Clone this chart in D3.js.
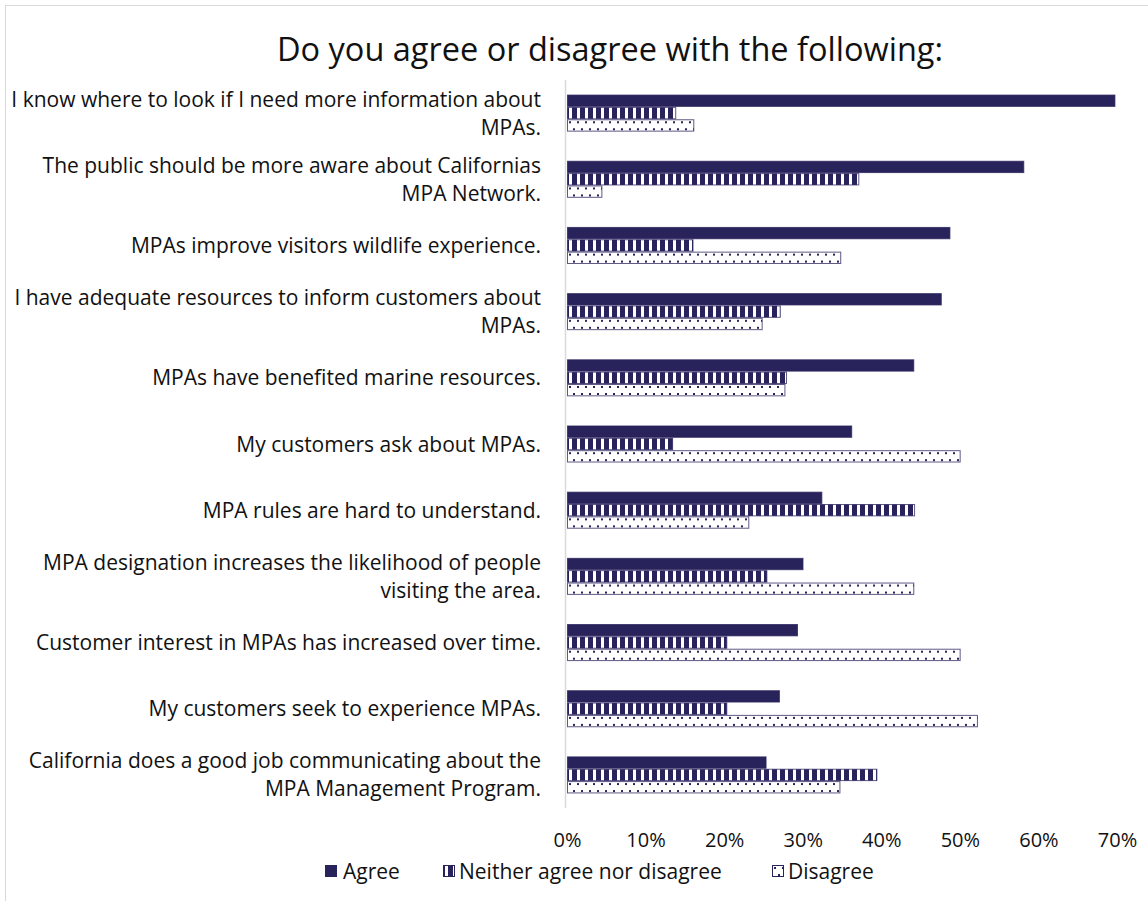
<!DOCTYPE html>
<html>
<head>
<meta charset="utf-8">
<script src="https://cdn.jsdelivr.net/npm/d3@7"></script>
<style>
  body { margin: 0; background: #fff; }
  svg { display: block; }
  text { font-family: "Open Sans", "Noto Sans", sans-serif; fill: #111; }
</style>
</head>
<body>
<svg id="chart" width="1148" height="901"></svg>
<script>
// Survey statements (line breaks mark where each label wraps)
const categories = [
  "I know where to look if I need more information about\nMPAs.",
  "The public should be more aware about Californias\nMPA Network.",
  "MPAs improve visitors wildlife experience.",
  "I have adequate resources to inform customers about\nMPAs.",
  "MPAs have benefited marine resources.",
  "My customers ask about MPAs.",
  "MPA rules are hard to understand.",
  "MPA designation increases the likelihood of people\nvisiting the area.",
  "Customer interest in MPAs has increased over time.",
  "My customers seek to experience MPAs.",
  "California does a good job communicating about the\nMPA Management Program."
];
const seriesNames = ["Agree", "Neither agree nor disagree", "Disagree"];
// Share of respondents, percent
const agree    = [69.8, 58.2, 48.8, 47.7, 44.2, 36.3, 32.5, 30.1, 29.4, 27.1, 25.4];
const neither  = [13.9, 37.2, 16.1, 27.2, 28.0, 13.5, 44.3, 25.5, 20.4, 20.4, 39.5];
const disagree = [16.2,  4.5, 34.9, 24.9, 27.8, 50.1, 23.2, 44.2, 50.1, 52.3, 34.8];
const xTicks = [0, 10, 20, 30, 40, 50, 60, 70];
const chartTitle = "Do you agree or disagree with the following:";

const seriesValues = [agree, neither, disagree];
const rows = categories.map((c, i) => ({
  category: c,
  values: seriesNames.map((s, k) => ({ series: s, key: k, value: seriesValues[k][i] }))
}));

const NAVY = "#29235c";
const FONT = 21;
const svg = d3.select("#chart");

// Outer chart frame
svg.append("rect")
  .attr("x", 5.5).attr("y", 5.5).attr("width", 1300).attr("height", 1100)
  .attr("fill", "none").attr("stroke", "#d9d9d9").attr("stroke-width", 1);

// Fill patterns: vertical stripes and small dots
const defs = svg.append("defs");
const stripes = defs.append("pattern")
  .attr("id", "pat-stripes").attr("patternUnits", "userSpaceOnUse")
  .attr("width", 8).attr("height", 8);
stripes.append("rect").attr("width", 8).attr("height", 8).attr("fill", NAVY);
stripes.append("rect").attr("x", 2).attr("width", 3).attr("height", 8).attr("fill", "#fff");

const dots = defs.append("pattern")
  .attr("id", "pat-dots").attr("patternUnits", "userSpaceOnUse")
  .attr("width", 8).attr("height", 14);
dots.append("rect").attr("width", 8).attr("height", 14).attr("fill", "#fff");
dots.append("rect").attr("x", 2).attr("y", 2).attr("width", 2).attr("height", 2).attr("fill", NAVY);
dots.append("rect").attr("x", 6).attr("y", 9).attr("width", 2).attr("height", 2).attr("fill", NAVY);

const fills = [NAVY, "url(#pat-stripes)", "url(#pat-dots)"];

// Scales
const x = d3.scaleLinear().domain([0, 70]).range([567, 1117]);
const y = d3.scaleBand().domain(categories).range([80, 808])
  .paddingInner(0.44).paddingOuter(0.22);
const ySub = d3.scaleBand().domain(d3.range(seriesNames.length)).range([0, y.bandwidth()]);

// Title
svg.append("text")
  .attr("x", 610).attr("y", 61)
  .attr("text-anchor", "middle")
  .style("font-size", "32.5px")
  .text(chartTitle);

// Bars
const groups = svg.append("g").selectAll("g.row")
  .data(rows).join("g")
  .attr("class", "row")
  .attr("transform", d => `translate(0,${y(d.category)})`);

groups.selectAll("g.bar")
  .data(d => d.values).join("g")
  .attr("class", "bar")
  .attr("transform", d => `translate(${x(0)},${ySub(d.key)})`)
  .append("rect")
  .attr("x", 0.5).attr("y", 0.5)
  .attr("width", d => x(d.value) - x(0) - 1)
  .attr("height", ySub.bandwidth() - 1)
  .attr("fill", d => fills[d.key])
  .attr("stroke", NAVY).attr("stroke-opacity", 0.75).attr("stroke-width", 1);

// Vertical category axis line
svg.append("line")
  .attr("x1", x(0) - 1.5).attr("x2", x(0) - 1.5)
  .attr("y1", 80).attr("y2", 808)
  .attr("stroke", "#d9d9d9").attr("stroke-width", 1.5);

// Category labels, right aligned, centred on their band
const lineGap = 28;
svg.append("g").selectAll("text")
  .data(categories).join("text")
  .attr("text-anchor", "end")
  .style("font-size", FONT + "px")
  .each(function (c) {
    const lines = c.split("\n");
    const cy = y(c) + y.bandwidth() / 2;
    const first = cy - (lines.length - 1) * lineGap / 2;
    d3.select(this).selectAll("tspan")
      .data(lines).join("tspan")
      .attr("x", 541)
      .attr("y", (l, i) => first + i * lineGap)
      .attr("dy", "0.36em")
      .text(l => l);
  });

// Value axis tick labels
const xAxis = svg.append("g")
  .attr("transform", "translate(0,831)")
  .call(d3.axisBottom(x).tickValues(xTicks).tickSize(0).tickPadding(2).tickFormat(d => d + "%"));
xAxis.select(".domain").remove();
xAxis.attr("font-family", null).attr("font-size", null);
xAxis.selectAll("text").style("font-size", "20px").attr("fill", "#111");

// Legend
const legendX = [325, 443, 772];
const legend = svg.append("g").selectAll("g")
  .data(seriesNames).join("g")
  .attr("transform", (d, i) => `translate(${legendX[i]},865)`);
legend.append("rect")
  .attr("x", 0.5).attr("y", 0.5).attr("width", 11).attr("height", 11)
  .attr("fill", (d, i) => fills[i])
  .attr("stroke", NAVY).attr("stroke-width", 1);
legend.append("text")
  .attr("x", (d, i) => i === 0 ? 18 : 16)
  .attr("y", 6).attr("dy", "0.36em")
  .style("font-size", FONT + "px")
  .text(d => d);
</script>
</body>
</html>
